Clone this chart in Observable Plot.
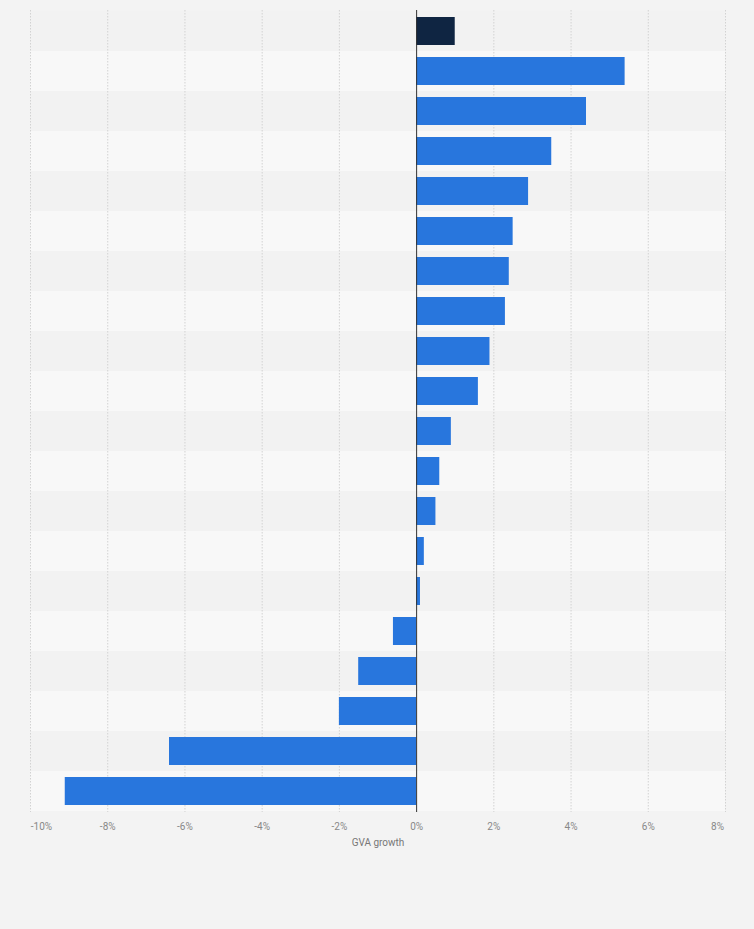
<!DOCTYPE html>
<html>
<head>
<meta charset="utf-8">
<script src="https://cdn.jsdelivr.net/npm/d3@7"></script>
<script src="https://cdn.jsdelivr.net/npm/@observablehq/plot@0.6"></script>
<style>
  html, body { margin: 0; padding: 0; background: #f3f3f3; }
  #chart { width: 754px; height: 929px; }
</style>
</head>
<body>
<div id="chart"></div>
<script>
const categories = [
  "Total", "Sector 1", "Sector 2", "Sector 3", "Sector 4", "Sector 5", "Sector 6",
  "Sector 7", "Sector 8", "Sector 9", "Sector 10", "Sector 11", "Sector 12",
  "Sector 13", "Sector 14", "Sector 15", "Sector 16", "Sector 17", "Sector 18", "Sector 19"
];
const growth = [1.0, 5.4, 4.4, 3.5, 2.9, 2.5, 2.4, 2.3, 1.9, 1.6, 0.9, 0.6, 0.5, 0.2, 0.1, -0.6, -1.5, -2.0, -6.4, -9.1];
const highlighted = ["Total"];
const xTicks = [-10, -8, -6, -4, -2, 0, 2, 4, 6, 8];
const axisLabel = "GVA growth";

const data = categories.map((c, i) => ({category: c, value: growth[i], idx: i}));
const fmt = d => d + "%";
const tickStyle = {tickSize: 0, tickPadding: 10, tickFormat: fmt, fill: "#888", fontSize: 10, label: null};

const chart = Plot.plot({
  width: 754,
  height: 929,
  marginTop: 10,
  marginBottom: 117,
  marginLeft: 30,
  marginRight: 29,
  style: {background: "#f3f3f3", fontFamily: "Roboto, 'Liberation Sans', sans-serif", fontSize: "10px"},
  x: {domain: [-10, 8]},
  y: {domain: categories, padding: 0, axis: null},
  marks: [
    Plot.cell(data, {y: "category", fill: "#f8f8f8", filter: d => d.idx % 2 === 1}),
    Plot.cell(data, {y: "category", fill: "#f2f2f2", filter: d => d.idx % 2 === 0}),
    Plot.gridX(xTicks.filter(d => d !== 0), {stroke: "#d2d2d2", strokeOpacity: 1, strokeDasharray: "1.5,1.5"}),
    Plot.barX(data, {x: "value", y: "category", fill: "#2876dd", insetTop: 6, insetBottom: 6,
      filter: d => !highlighted.includes(d.category)}),
    Plot.barX(data, {x: "value", y: "category", fill: "#0f2542", insetTop: 6, insetBottom: 6,
      filter: d => highlighted.includes(d.category)}),
    Plot.ruleX([0], {stroke: "#333", strokeWidth: 1}),
    Plot.axisX(xTicks.slice(1, -1), tickStyle),
    Plot.axisX(xTicks.slice(0, 1), {...tickStyle, dx: 11}),
    Plot.axisX(xTicks.slice(-1), {...tickStyle, dx: -8}),
    Plot.text([axisLabel], {frameAnchor: "bottom", dy: 33, fill: "#777", fontSize: 10})
  ]
});
document.getElementById("chart").appendChild(chart);
</script>
</body>
</html>
